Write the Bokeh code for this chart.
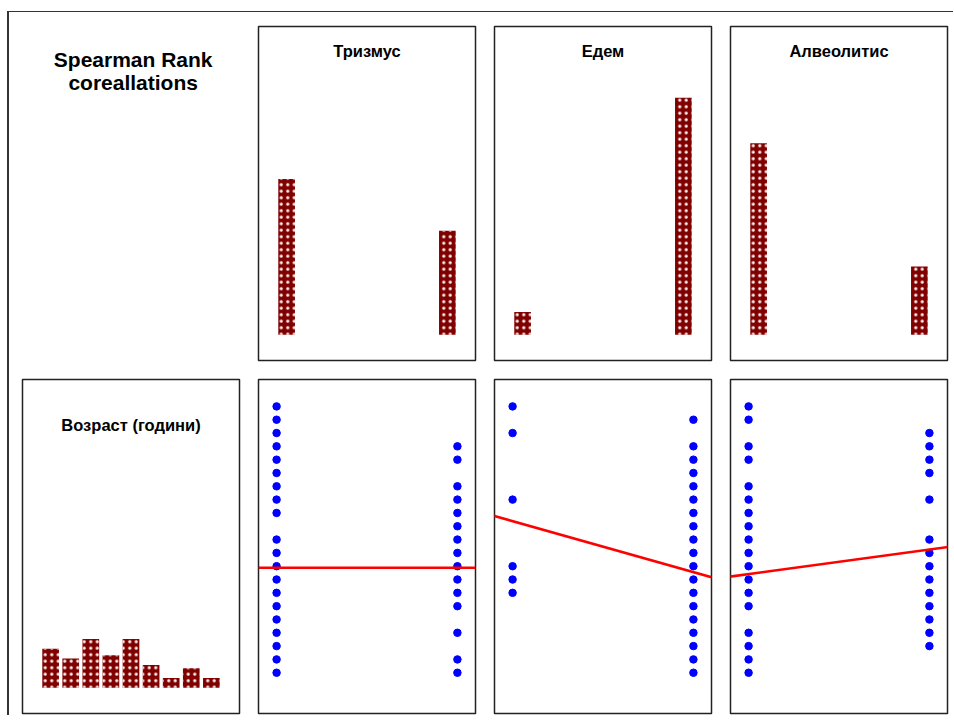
from bokeh.plotting import figure
from bokeh.layouts import gridplot
from bokeh.models import Label, Slope, Range1d
from bokeh.embed import file_html
from bokeh.resources import INLINE
import numpy as np

# ---------------- data ----------------
main_title = ["Spearman Rank", "coreallations"]
variables = ["Тризмус", "Едем", "Алвеолитис"]
age_label = "Возраст (години)"

binary_values = [0, 1]
trismus_counts = [48, 32]
edem_counts = [7, 73]
alveolitis_counts = [59, 21]

age_min, age_max = 18, 38
age_hist_counts = [12, 9, 15, 10, 15, 7, 3, 6, 3]

# unique (age) points visible in each scatter column
trismus0_ages = [18, 19, 20, 21, 22, 23, 24, 25, 26, 27, 28, 30, 31, 32, 33, 34, 35, 36, 37, 38]
trismus1_ages = [18, 19, 21, 23, 24, 25, 26, 27, 28, 29, 30, 31, 32, 34, 35]
edem0_ages = [24, 25, 26, 31, 36, 38]
edem1_ages = [18, 19, 20, 21, 22, 23, 24, 25, 26, 27, 28, 29, 30, 31, 32, 33, 34, 35, 37]
alveolitis0_ages = [18, 19, 20, 21, 23, 24, 25, 26, 27, 28, 29, 30, 31, 32, 34, 35, 37, 38]
alveolitis1_ages = [20, 21, 22, 23, 24, 25, 26, 27, 28, 31, 33, 34, 35, 36]

# regression lines: (intercept at x=0, slope)
trismus_fit = (25.88, 0.0)
edem_fit = (29.38, -3.82)
alveolitis_fit = (25.41, 1.84)

# ---------------- style / layout ----------------
BAR = "#800000"
FRAME_H = 334
HIST_Y = (-7.9, 94.9)
SCAT_Y = (14.94, 40.02)
BIN_X = (-0.1, 1.1)
AGE_X = (16.0, 40.0)
FONT = "Liberation Sans"


def make_panel(xr, yr, row, outline=True):
    p = figure(width=236, height=353 if row == 0 else 350,
               x_range=Range1d(*xr), y_range=Range1d(*yr),
               x_axis_type=None, y_axis_type=None,
               toolbar_location=None, output_backend="svg",
               min_border_left=13, min_border_right=6,
               min_border_top=14, min_border_bottom=5 if row == 0 else 2)
    p.grid.visible = False
    p.background_fill_color = "white"
    p.border_fill_color = "white"
    if outline:
        p.outline_line_color = "#222222"
        p.outline_line_width = 1.5
    else:
        p.outline_line_color = None
    return p


def y_from_top(yr, px):
    return yr[1] - px / FRAME_H * (yr[1] - yr[0])


HATCH = dict(fill_color=BAR, line_color=None, hatch_pattern="dot",
             hatch_color="white", hatch_scale=6.5, hatch_weight=3, hatch_alpha=0.95)


def panel_title(p, text, xr, yr, px):
    p.add_layout(Label(x=(xr[0] + xr[1]) / 2, y=y_from_top(yr, px), text=text,
                       text_align="center", text_baseline="middle",
                       text_font=FONT, text_font_style="bold",
                       text_font_size="16.5px", text_color="black"))


# title cell
t = make_panel((0, 1), (0, 1), 0, outline=False)
for i, line in enumerate(main_title):
    t.add_layout(Label(x=0.51, y=y_from_top((0, 1), 33 + i * 23), text=line,
                       text_align="center", text_baseline="middle",
                       text_font=FONT, text_font_style="bold",
                       text_font_size="21px", text_color="black"))

# binary histograms (9 bins over 0..1)
bin_edges = np.linspace(0, 1, 10)
bw = bin_edges[1] - bin_edges[0]
bin_centers = (bin_edges[:-1] + bin_edges[1:]) / 2
top_row = [t]
for name, counts in zip(variables, [trismus_counts, edem_counts, alveolitis_counts]):
    p = make_panel(BIN_X, HIST_Y, 0)
    by_bin = np.zeros(9)
    for v, c in zip(binary_values, counts):
        idx = min(int(np.searchsorted(bin_edges, v, side="right") - 1), 8)
        by_bin[idx] += c
    mask = by_bin > 0
    p.vbar(x=bin_centers[mask], top=by_bin[mask], bottom=0, width=bw * 0.83, **HATCH)
    panel_title(p, name, BIN_X, HIST_Y, 24.5)
    top_row.append(p)

# age histogram
a = make_panel(AGE_X, HIST_Y, 1)
age_edges = np.linspace(age_min, age_max, 10)
age_centers = (age_edges[:-1] + age_edges[1:]) / 2
a.vbar(x=age_centers, top=age_hist_counts, bottom=0,
       width=(age_edges[1] - age_edges[0]) * 0.83, **HATCH)
panel_title(a, age_label, AGE_X, HIST_Y, 45.5)

bottom_row = [a]
scatter_sets = [(trismus0_ages, trismus1_ages, trismus_fit),
                (edem0_ages, edem1_ages, edem_fit),
                (alveolitis0_ages, alveolitis1_ages, alveolitis_fit)]
for g0, g1, (b0, b1) in scatter_sets:
    p = make_panel(BIN_X, SCAT_Y, 1)
    xs = [binary_values[0]] * len(g0) + [binary_values[1]] * len(g1)
    ys = list(g0) + list(g1)
    p.scatter(xs, ys, size=7.5, fill_color="#0000ff", line_color="#0000ff")
    p.add_layout(Slope(gradient=b1, y_intercept=b0, line_color="#ff0000", line_width=2.6))
    bottom_row.append(p)

grid = gridplot([top_row, bottom_row], toolbar_location=None)
grid.styles = {"border-top": "1px solid #333333", "border-left": "2px solid #333333",
               "margin-top": "11px", "margin-left": "7px"}

open("out.html", "w").write(file_html(grid, INLINE))
